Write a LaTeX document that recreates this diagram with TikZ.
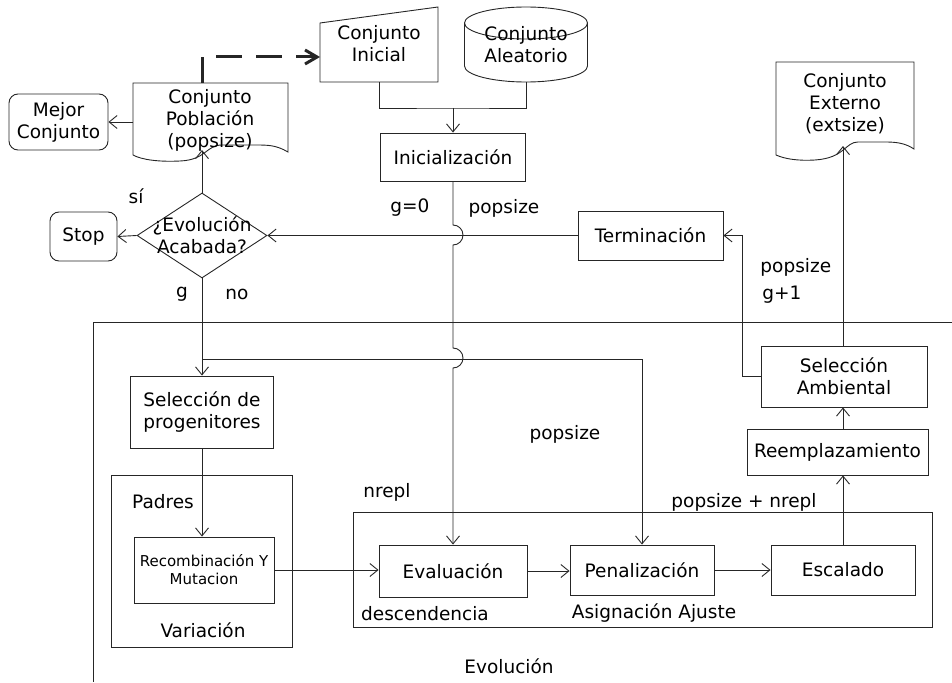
\documentclass[tikz,border=0pt]{standalone}
\usepackage{fontspec}
\setmainfont{DejaVu Sans}
\usetikzlibrary{arrows.meta,shapes.geometric}

\tikzset{
  box/.style={draw, rectangle, inner sep=0pt, align=center},
  rbox/.style={box, rounded corners=9pt},
  arr/.style={-{Straight Barb[length=8pt,width=13pt]}},
  lbl/.style={inner sep=0pt, align=center},
  small/.style={font=\fontsize{15}{18}\selectfont},
}

\begin{document}
\begin{tikzpicture}[x=1pt, y=-1pt, line width=0.9pt, color=black!85, text=black,
  every node/.style={font=\fontsize{18.5}{22}\selectfont, align=center}]
\useasboundingbox (0,0) rectangle (952,682);

% ---- Evolution frame (only its top and left sides fall inside the page)
\draw (952,322) -- (93,322) -- (93,682);
\node[lbl] (evo) at (509,666) {Evolución};

% ---- population and result sets
\node[rbox, minimum width=99pt, minimum height=56pt] (mejor) at (58.5,122) {Mejor\\Conjunto};

\draw (133,83) -- (288,83) -- (288,152)
  .. controls (276,145) and (268,145) .. (255,145) -- (222,145)
  .. controls (206,145) and (206,160) .. (180,161)
  .. controls (160,162) and (142,160) .. (133,155) -- cycle;
\node[lbl] (pob) at (210,120.5) {Conjunto\\Población\\(popsize)};

\draw (320,23) -- (438,7) -- (438,82) -- (320,82) -- cycle;
\node[lbl] (ini) at (379,44) {Conjunto\\Inicial};

\draw (526,23) ellipse [x radius=61.5pt, y radius=16pt];
\draw (464.5,23) -- (464.5,66) arc[start angle=180, end angle=360, x radius=61.5pt, y radius=16pt] -- (587.5,23);
\node[lbl] (alea) at (526,45) {Conjunto\\Aleatorio};

\draw (776,62) -- (914,62) -- (914,149)
  .. controls (905,143) and (896,142) .. (885,142) -- (858,142)
  .. controls (845,142) and (845,158) .. (815,160)
  .. controls (798,161) and (785,159) .. (776,155) -- cycle;
\node[lbl] (ext) at (845,104) {Conjunto\\Externo\\(extsize)};

% ---- process boxes
\node[box, minimum width=145pt, minimum height=48pt] (inic) at (453,157) {Inicialización};
\node[box, minimum width=145pt, minimum height=49pt] (term) at (650.5,235.5) {Terminación};
\node[diamond, draw, minimum width=130pt, minimum height=85pt, inner sep=0pt] (dia) at (202,235.5) {};
\node[lbl] (diatext) at (202,235) {¿Evolución\\Acabada?};
\node[rbox, minimum width=67pt, minimum height=49pt] (stop) at (83.5,236.5) {Stop};

\node[box, minimum width=143pt, minimum height=72pt] (selp) at (202,412) {Selección de\\progenitores};
\node[box, minimum width=181pt, minimum height=172pt] (var) at (201.5,561) {};
\node[box, small, minimum width=140pt, minimum height=66pt] (rec) at (204,570) {Recombinación Y\\Mutacion};

\node[box, minimum width=579pt, minimum height=115pt] (asig) at (642.5,569.5) {};
\node[box, minimum width=148pt, minimum height=52pt] (eval) at (453,571) {Evaluación};
\node[box, minimum width=144pt, minimum height=50pt] (pen) at (642,570) {Penalización};
\node[box, minimum width=144pt, minimum height=50pt] (esc) at (843,570) {Escalado};
\node[box, minimum width=181pt, minimum height=46pt] (reem) at (837.5,452) {Reemplazamiento};
\node[box, minimum width=166pt, minimum height=61pt] (selam) at (844,376.5) {Selección\\Ambiental};

% ---- connection points
\coordinate (pobL) at (133,122);
\coordinate (pobT) at (202,83);
\coordinate (pobB) at (202,150);
\coordinate (iniL) at (320,57);
\coordinate (iniB) at (379,82);
\coordinate (aleaB) at (526,82);
\coordinate (join) at (453,108);
\coordinate (extB) at (843,146);
\coordinate (tcorner) at (742,235.5);
\coordinate (br) at (202,359);

% ---- connectors
\draw[arr] (pobL) -- (mejor.east);
\draw[line width=3pt, dash pattern=on 26pt off 14pt, -{Straight Barb[length=12pt,width=14pt]}] (pobT) |- (iniL);
\draw (iniB) |- (join) -| (aleaB);
\draw[arr] (join) -- (inic.north);
\draw[arr] (inic.south) -- (453,225)
  arc[start angle=90, end angle=-90, radius=10pt] -- (453,348)
  arc[start angle=90, end angle=-90, radius=10pt] -- (eval.north);
\draw[arr] (term.west) -- (dia.east);
\draw[arr] (dia.west) -- (stop.east);
\draw[arr] (dia.north) -- (pobB);
\draw[arr] (dia.south) -- (selp.north);
\draw[arr] (br) -| (pen.north);
\draw[arr] (selp.south) -- (selp.south |- rec.north);
\draw[arr] (rec.east) -- (rec.east -| eval.west);
\draw[arr] (eval.east) -- (eval.east -| pen.west);
\draw[arr] (pen.east) -- (esc.west);
\draw[arr] (esc.north) -- (esc.north |- reem.south);
\draw[arr] (esc.north |- reem.north) -- (esc.north |- selam.south);
\draw[arr] (esc.north |- selam.north) -- (extB);
\draw[arr] (selam.west) -| (tcorner) -- (term.east);

% ---- labels
\node[lbl] (lsi) at (136,196) {sí};
\node[lbl] (lg) at (182,294) {g};
\node[lbl] (lno) at (237,294) {no};
\node[lbl] (lg0) at (410,208) {g=0};
\node[lbl] (lpop1) at (504,208) {popsize};
\node[lbl, anchor=west] (lpop2) at (760,267) {popsize};
\node[lbl, anchor=west] (lg1) at (762,295) {g+1};
\node[lbl] (lpop3) at (565,434) {popsize};
\node[lbl] (lnrepl) at (387,492) {nrepl};
\node[lbl] (lpn) at (744,502) {popsize + nrepl};
\node[lbl] (lpadres) at (163,502) {Padres};
\node[lbl] (lvar) at (203,630) {Variación};
\node[lbl] (ldesc) at (425,614) {descendencia};
\node[lbl] (lasig) at (654,613) {Asignación Ajuste};
\end{tikzpicture}
\end{document}
